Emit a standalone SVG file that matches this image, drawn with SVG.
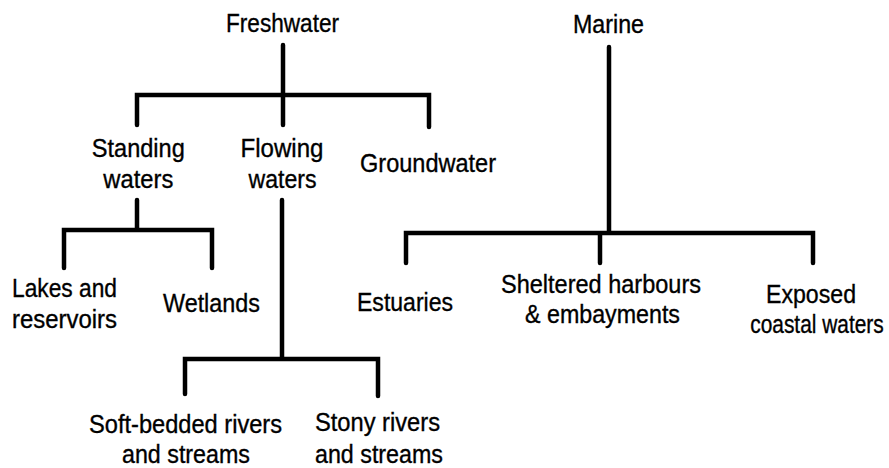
<svg xmlns="http://www.w3.org/2000/svg" width="889" height="468" viewBox="0 0 889 468">
<style>
text{font-family:"Liberation Sans",Arial,sans-serif;font-size:25.5px;fill:#000;stroke:#000;stroke-width:0.35;text-anchor:middle}
.c{fill:none;stroke:#000;stroke-width:4.5;stroke-linecap:round;stroke-linejoin:miter}
</style>
<rect width="889" height="468" fill="#fff"/>
<g id="connectors">
<path class="c" d="M283 45V95M137 125V95H429V127M283 95V125"/>
<path class="c" d="M137 200V230M64 268V230H212V268"/>
<path class="c" d="M282 200V359M185 394V359H378V396"/>
<path class="c" d="M609 47V233M406 263V233H813V263M600 233V263"/>
</g>
<g id="freshwater"><text x="282.5" y="31.5" textLength="113" lengthAdjust="spacingAndGlyphs">Freshwater</text></g>
<g id="marine"><text x="608.5" y="33" textLength="71" lengthAdjust="spacingAndGlyphs">Marine</text></g>
<g id="standing"><text x="138.3" y="157" textLength="93" lengthAdjust="spacingAndGlyphs">Standing</text><text x="138.3" y="188" textLength="70" lengthAdjust="spacingAndGlyphs">waters</text></g>
<g id="flowing"><text x="282" y="157" textLength="83" lengthAdjust="spacingAndGlyphs">Flowing</text><text x="282.5" y="188" textLength="68" lengthAdjust="spacingAndGlyphs">waters</text></g>
<g id="groundwater"><text x="428" y="172" textLength="136" lengthAdjust="spacingAndGlyphs">Groundwater</text></g>
<g id="lakes"><text x="64.5" y="297" textLength="105" lengthAdjust="spacingAndGlyphs">Lakes and</text><text x="64.5" y="328" textLength="105" lengthAdjust="spacingAndGlyphs">reservoirs</text></g>
<g id="wetlands"><text x="211.5" y="312" textLength="97" lengthAdjust="spacingAndGlyphs">Wetlands</text></g>
<g id="estuaries"><text x="405" y="311" textLength="96" lengthAdjust="spacingAndGlyphs">Estuaries</text></g>
<g id="sheltered"><text x="601" y="293" textLength="200" lengthAdjust="spacingAndGlyphs">Sheltered harbours</text><text x="602.5" y="323" textLength="155" lengthAdjust="spacingAndGlyphs">&amp; embayments</text></g>
<g id="exposed"><text x="811" y="303" textLength="90" lengthAdjust="spacingAndGlyphs">Exposed</text><text transform="translate(817 333) scale(0.82 1)" x="0" y="0">coastal waters</text></g>
<g id="softbedded"><text x="185.5" y="433" textLength="193" lengthAdjust="spacingAndGlyphs">Soft-bedded rivers</text><text x="186" y="463" textLength="128" lengthAdjust="spacingAndGlyphs">and streams</text></g>
<g id="stony"><text x="377.5" y="431" textLength="125" lengthAdjust="spacingAndGlyphs">Stony rivers</text><text x="379" y="463" textLength="128" lengthAdjust="spacingAndGlyphs">and streams</text></g>
</svg>
